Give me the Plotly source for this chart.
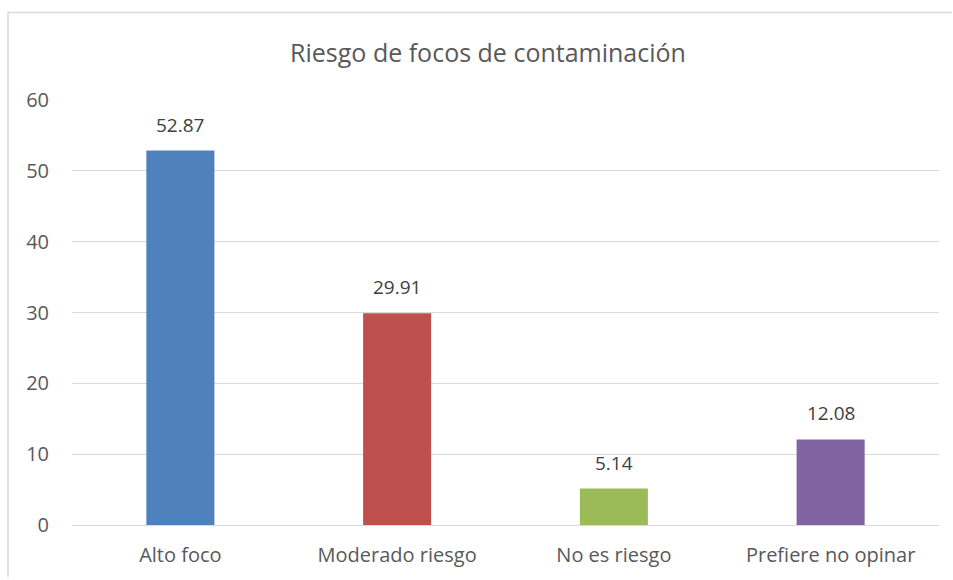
import plotly.graph_objects as go

categories = ["Alto foco", "Moderado riesgo", "No es riesgo", "Prefiere no opinar"]
values = [52.87, 29.91, 5.14, 12.08]
labels = ["52.87", "29.91", "5.14", "12.08"]
colors = ["#4F81BD", "#C0504D", "#9BBB59", "#8064A2"]
y_ticks = [0, 10, 20, 30, 40, 50, 60]

FONT = "Open Sans"
GRAY = "#595959"

fig = go.Figure(go.Bar(
    x=categories, y=values,
    marker=dict(color=colors, line=dict(width=0)),
    width=0.314,
))

for c, v, t in zip(categories, values, labels):
    fig.add_annotation(x=c, y=v, text=t, showarrow=False, yanchor="bottom",
                       yshift=11, font=dict(family=FONT, size=19, color="#404040"))

x_left = (8 - 72) / 867
x_right = (952 - 72) / 867
y_top = (527 - 12) / 427
y_bottom = (527 - 579) / 427

fig.update_layout(
    width=953, height=580,
    margin=dict(l=72, r=14, t=100, b=53),
    paper_bgcolor="white", plot_bgcolor="white",
    showlegend=False,
    title=dict(text="Riesgo de focos de contaminación", x=488/953, xanchor="center",
               y=1 - 53/580, yanchor="middle",
               font=dict(family=FONT, size=25, color=GRAY)),
    font=dict(family=FONT, color=GRAY),
    xaxis=dict(showgrid=False, showline=True, linecolor="#d9d9d9", linewidth=1,
               ticks="", tickfont=dict(family=FONT, size=20, color=GRAY),
               ticklabelstandoff=12),
    yaxis=dict(range=[0, 60], tickvals=y_ticks, showgrid=True, gridcolor="#d9d9d9",
               gridwidth=1, zeroline=False, showline=False, ticks="",
               tickfont=dict(family=FONT, size=20, color=GRAY),
               ticklabelstandoff=22),
    shapes=[
        dict(type="path", xref="paper", yref="paper",
             path=f"M {x_left},{y_bottom} L {x_left},{y_top} L {x_right},{y_top}",
             line=dict(color="#d9d9d9", width=1.5), layer="below"),
    ],
)

fig.write_html("out.html", config={"displayModeBar": False},
               post_script="document.body.style.margin='0';document.body.style.overflow='hidden';document.documentElement.style.overflow='hidden';")
